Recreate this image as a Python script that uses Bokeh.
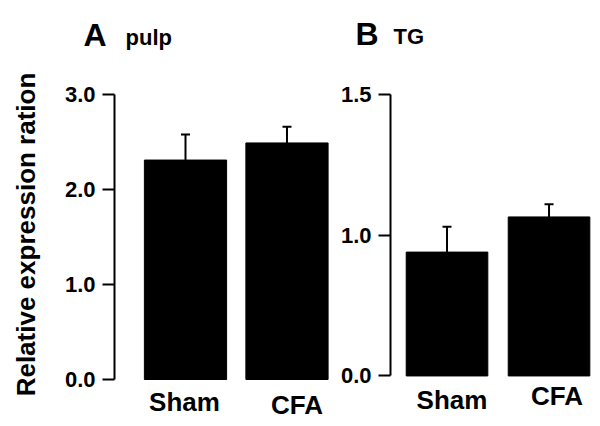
import math
from bokeh.plotting import figure
from bokeh.models import Range1d, FixedTicker, ColumnDataSource, Whisker, TeeHead, Label
from bokeh.layouts import row, column
from bokeh.core.properties import value
from bokeh.embed import file_html
from bokeh.resources import INLINE

categories = ["Sham", "CFA"]
pulp_values = [2.31, 2.49]
pulp_sem = [0.27, 0.17]
tg_values = [0.88, 1.13]
tg_sem = [0.18, 0.09]
pulp_ticks = [0.0, 1.0, 2.0, 3.0]
pulp_tick_labels = ["0.0", "1.0", "2.0", "3.0"]
tg_ticks = [0.0, 1.0, 2.0]
tg_tick_labels = ["0.0", "1.0", "1.5"]
y_title = "Relative expression ration"
panel_letters = ["A", "B"]
panel_names = ["pulp", "TG"]

FONT = "Liberation Sans"
TOTAL_H = 424
HEADER_H = 72
PANEL_H = TOTAL_H - HEADER_H
SIDE_W = 60


def blank(width, height):
    f = figure(width=width, height=height, output_backend="svg", toolbar_location=None,
               x_range=Range1d(0, width), y_range=Range1d(0, height),
               min_border_left=0, min_border_right=0, min_border_top=0,
               min_border_bottom=0, outline_line_color=None,
               x_axis_type=None, y_axis_type=None)
    f.grid.visible = False
    return f


def make_panel(values, sem, yticks, ylabels, y_start, y_end, width, bl, bt,
               x_start, x_end, bar_w, label_dx, label_dy):
    p = figure(width=width, height=PANEL_H, output_backend="svg", toolbar_location=None,
               x_range=Range1d(x_start, x_end), y_range=Range1d(y_start, y_end),
               min_border_left=bl, min_border_right=0, min_border_top=bt,
               min_border_bottom=0, outline_line_color=None, x_axis_location=None,
               background_fill_color="white", border_fill_color="white")
    xs = list(range(len(categories)))
    src = ColumnDataSource(dict(x=xs, top=values, label=categories,
                                upper=[v + s for v, s in zip(values, sem)],
                                dx=label_dx, dy=label_dy))
    w = Whisker(base="x", lower="top", upper="upper", source=src,
                line_width=2, line_color="black",
                upper_head=TeeHead(size=9, line_width=2, line_color="black"),
                lower_head=None, level="underlay")
    p.add_layout(w)
    p.vbar(x="x", top="top", bottom=0, width=bar_w, source=src,
           fill_color="black", line_color="black")
    p.text(x="x", y=0, text="label", x_offset="dx", y_offset="dy", source=src,
           text_align="center", text_baseline="alphabetic",
           text_font=value(FONT), text_font_style="bold", text_font_size="26px",
           text_color="black")
    p.grid.visible = False

    ya = p.yaxis[0]
    ya.bounds = (0, y_end)
    ya.ticker = FixedTicker(ticks=yticks)
    ya.major_label_overrides = {t: l for t, l in zip(yticks, ylabels)}
    ya.minor_tick_line_color = None
    ya.major_tick_out = 12
    ya.major_tick_in = 0
    ya.axis_line_width = 2
    ya.major_tick_line_width = 2
    ya.major_label_standoff = 7
    ya.major_label_text_font = FONT
    ya.major_label_text_font_style = "bold"
    ya.major_label_text_font_size = "22px"
    ya.major_label_text_color = "black"
    return p


header = blank(598 - SIDE_W, HEADER_H)
for letter, name, lx, nx, ly, ny in zip(panel_letters, panel_names,
                                        [83 - SIDE_W, 355 - SIDE_W],
                                        [125 - SIDE_W, 393 - SIDE_W],
                                        [38, 39], [35.5, 36.5]):
    header.add_layout(Label(x=lx, y=ly, x_units="screen", y_units="screen",
                            text=letter, text_font=FONT, text_font_style="bold",
                            text_font_size="32px", text_color="black",
                            text_baseline="alphabetic"))
    header.add_layout(Label(x=nx, y=ny, x_units="screen", y_units="screen",
                            text=name, text_font=FONT, text_font_style="bold",
                            text_font_size="22px", text_color="black",
                            text_baseline="alphabetic"))

side = blank(SIDE_W, TOTAL_H)
side.add_layout(Label(x=25, y=TOTAL_H - 234, x_units="screen", y_units="screen",
                      text=y_title, angle=math.pi / 2, text_align="center",
                      text_baseline="middle", text_font=FONT, text_font_style="bold",
                      text_font_size="26px", text_color="black"))

pA = make_panel(pulp_values, pulp_sem, pulp_ticks, pulp_tick_labels,
                -(TOTAL_H - 379) / 95.0, 3.0, 335 - SIDE_W, 114 - SIDE_W, 94 - HEADER_H,
                -0.6995, 1.478, 0.81, [-1, 10], [22, 25])
pB = make_panel(tg_values, tg_sem, tg_ticks, tg_tick_labels,
                -(TOTAL_H - 375) / 142.0, 2.0, 263, 55, 91 - HEADER_H,
                -0.554, 1.485, 0.80, [5, 8], [24, 20])

right = column(header, row(pA, pB, spacing=0), spacing=0)
layout = row(side, right, spacing=0)
open("out.html", "w").write(file_html(layout, INLINE))
